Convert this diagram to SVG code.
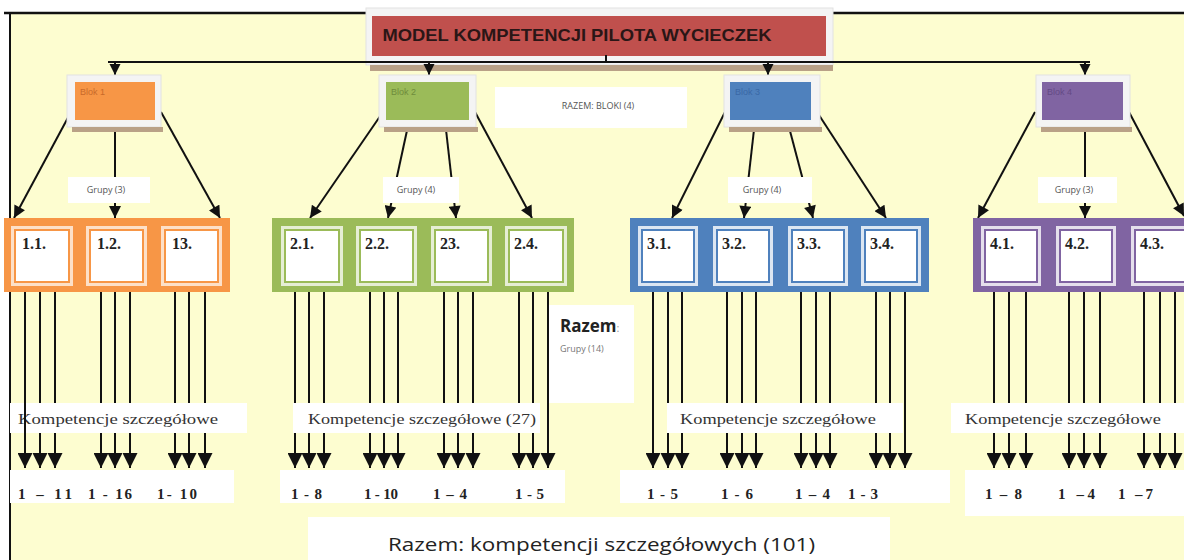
<svg xmlns="http://www.w3.org/2000/svg" width="1184" height="560" viewBox="0 0 1184 560">
<defs>
<style>
.ln{stroke:#111;stroke-width:2;fill:none}
.big{marker-end:url(#ah)}
.mid{marker-end:url(#am)}
.sm{marker-end:url(#as)}
.wb{fill:#ffffff}
.frame{fill:#f4f4f4;stroke:#e2e2e2;stroke-width:1}
.shadow{fill:#b9a187}
.blok{font-family:"Liberation Sans",Arial,sans-serif;font-size:9px}
.gr{font-family:"Open Sans","Liberation Sans",sans-serif;font-size:9px;fill:#555;text-anchor:middle}
.grl{font-family:"Open Sans","Liberation Sans",sans-serif;font-size:9px;fill:#777}
.lab{font-family:"Liberation Serif","Times New Roman",serif;font-size:16px;font-weight:bold;fill:#222}
.komp{font-family:"Liberation Serif","Times New Roman",serif;font-size:15px;fill:#333}
.num{font-family:"Liberation Serif","Times New Roman",serif;font-size:15px;font-weight:bold;fill:#222}
</style>
<marker id="ah" viewBox="0 0 10 10" refX="10" refY="5" markerWidth="16" markerHeight="15" markerUnits="userSpaceOnUse" orient="auto"><path d="M0,0 L10,5 L0,10 z" fill="#111"/></marker>
<marker id="am" viewBox="0 0 10 10" refX="10" refY="5" markerWidth="13" markerHeight="12" markerUnits="userSpaceOnUse" orient="auto"><path d="M0,0 L10,5 L0,10 z" fill="#111"/></marker>
<marker id="as" viewBox="0 0 10 10" refX="10" refY="5" markerWidth="11" markerHeight="12" markerUnits="userSpaceOnUse" orient="auto"><path d="M0,0 L10,5 L0,10 z" fill="#111"/></marker>
</defs>
<rect x="0" y="0" width="1184" height="560" fill="#ffffff"/>
<g id="panel">
<rect x="10" y="13" width="1180" height="550" fill="#fdfdd0"/>
<line x1="4" y1="13" x2="1184" y2="13" stroke="#111" stroke-width="2.5"/>
<line x1="10" y1="13" x2="10" y2="560" stroke="#111" stroke-width="2"/>
</g>
<g id="title">
<rect x="366" y="8" width="467" height="57" class="frame"/>
<rect x="370" y="65" width="463" height="6" class="shadow"/>
<rect x="372" y="16" width="454" height="40" fill="#c0504d"/>
<text x="577" y="41" text-anchor="middle" font-family="Liberation Sans, Arial, sans-serif" font-size="17" font-weight="bold" fill="#2a1616" textLength="389" lengthAdjust="spacingAndGlyphs">MODEL KOMPETENCJI PILOTA WYCIECZEK</text>
</g>
<g id="connectors">
<line class="ln" x1="606" y1="55" x2="606" y2="62"/>
<line class="ln" x1="108" y1="62" x2="1090" y2="62" stroke-width="2.5"/>
<line class="ln sm" x1="115" y1="62" x2="115" y2="75"/>
<line class="ln sm" x1="429" y1="62" x2="429" y2="75"/>
<line class="ln sm" x1="768" y1="62" x2="768" y2="75"/>
<line class="ln sm" x1="1085" y1="62" x2="1085" y2="75"/>
<line class="ln mid" x1="71" y1="112" x2="14" y2="218"/>
<line class="ln mid" x1="115" y1="120" x2="115" y2="218"/>
<line class="ln mid" x1="161" y1="112" x2="220" y2="218"/>
<line class="ln mid" x1="383" y1="112" x2="310" y2="218"/>
<line class="ln mid" x1="411" y1="112" x2="388" y2="218"/>
<line class="ln mid" x1="444" y1="112" x2="456" y2="218"/>
<line class="ln mid" x1="475" y1="112" x2="532" y2="218"/>
<line class="ln mid" x1="725" y1="112" x2="672" y2="218"/>
<line class="ln mid" x1="756" y1="112" x2="744" y2="218"/>
<line class="ln mid" x1="785" y1="112" x2="813" y2="218"/>
<line class="ln mid" x1="817" y1="112" x2="886" y2="218"/>
<line class="ln mid" x1="1035" y1="112" x2="978" y2="218"/>
<line class="ln mid" x1="1085" y1="120" x2="1085" y2="218"/>
<line class="ln mid" x1="1129" y1="112" x2="1184" y2="216"/>
<line class="ln big" x1="25" y1="292" x2="25" y2="468"/>
<line class="ln big" x1="40" y1="292" x2="40" y2="468"/>
<line class="ln big" x1="55" y1="292" x2="55" y2="468"/>
<line class="ln big" x1="101" y1="292" x2="101" y2="468"/>
<line class="ln big" x1="115" y1="292" x2="115" y2="468"/>
<line class="ln big" x1="130" y1="292" x2="130" y2="468"/>
<line class="ln big" x1="175" y1="292" x2="175" y2="468"/>
<line class="ln big" x1="189" y1="292" x2="189" y2="468"/>
<line class="ln big" x1="205" y1="292" x2="205" y2="468"/>
<line class="ln big" x1="295" y1="292" x2="295" y2="468"/>
<line class="ln big" x1="309" y1="292" x2="309" y2="468"/>
<line class="ln big" x1="324" y1="292" x2="324" y2="468"/>
<line class="ln big" x1="370" y1="292" x2="370" y2="468"/>
<line class="ln big" x1="384" y1="292" x2="384" y2="468"/>
<line class="ln big" x1="398" y1="292" x2="398" y2="468"/>
<line class="ln big" x1="444" y1="292" x2="444" y2="468"/>
<line class="ln big" x1="458" y1="292" x2="458" y2="468"/>
<line class="ln big" x1="473" y1="292" x2="473" y2="468"/>
<line class="ln big" x1="519" y1="292" x2="519" y2="468"/>
<line class="ln big" x1="533" y1="292" x2="533" y2="468"/>
<line class="ln big" x1="548" y1="292" x2="548" y2="468"/>
<line class="ln big" x1="653" y1="292" x2="653" y2="468"/>
<line class="ln big" x1="668" y1="292" x2="668" y2="468"/>
<line class="ln big" x1="682" y1="292" x2="682" y2="468"/>
<line class="ln big" x1="727" y1="292" x2="727" y2="468"/>
<line class="ln big" x1="742" y1="292" x2="742" y2="468"/>
<line class="ln big" x1="756" y1="292" x2="756" y2="468"/>
<line class="ln big" x1="801" y1="292" x2="801" y2="468"/>
<line class="ln big" x1="816" y1="292" x2="816" y2="468"/>
<line class="ln big" x1="830" y1="292" x2="830" y2="468"/>
<line class="ln big" x1="876" y1="292" x2="876" y2="468"/>
<line class="ln big" x1="890" y1="292" x2="890" y2="468"/>
<line class="ln big" x1="905" y1="292" x2="905" y2="468"/>
<line class="ln big" x1="994" y1="292" x2="994" y2="468"/>
<line class="ln big" x1="1009" y1="292" x2="1009" y2="468"/>
<line class="ln big" x1="1026" y1="292" x2="1026" y2="468"/>
<line class="ln big" x1="1069" y1="292" x2="1069" y2="468"/>
<line class="ln big" x1="1084" y1="292" x2="1084" y2="468"/>
<line class="ln big" x1="1100" y1="292" x2="1100" y2="468"/>
<line class="ln big" x1="1144" y1="292" x2="1144" y2="468"/>
<line class="ln big" x1="1160" y1="292" x2="1160" y2="468"/>
<line class="ln big" x1="1175" y1="292" x2="1175" y2="468"/>
</g>
<g id="blok1">
<rect x="67" y="75" width="94" height="52" class="frame"/>
<rect x="72" y="127" width="91" height="5" class="shadow"/>
<rect x="75" y="82" width="80" height="38" fill="#f79646"/>
<text x="80" y="95" class="blok" fill="#c96a2a">Blok 1</text>
</g>
<g id="blok2">
<rect x="379" y="75" width="97" height="52" class="frame"/>
<rect x="384" y="127" width="94" height="5" class="shadow"/>
<rect x="386" y="82" width="83" height="38" fill="#9bbb59"/>
<text x="391" y="95" class="blok" fill="#6f8c3c">Blok 2</text>
</g>
<g id="blok3">
<rect x="724" y="75" width="96" height="52" class="frame"/>
<rect x="729" y="127" width="93" height="5" class="shadow"/>
<rect x="730" y="82" width="81" height="38" fill="#4f81bd"/>
<text x="735" y="95" class="blok" fill="#3a68a6">Blok 3</text>
</g>
<g id="blok4">
<rect x="1036" y="75" width="94" height="52" class="frame"/>
<rect x="1041" y="127" width="91" height="5" class="shadow"/>
<rect x="1042" y="82" width="81" height="38" fill="#8064a2"/>
<text x="1047" y="95" class="blok" fill="#644a85">Blok 4</text>
</g>
<g id="razem-bloki">
<rect x="495" y="87" width="192" height="41" class="wb"/>
<text x="598" y="109" class="gr" font-size="9.5">RAZEM: BLOKI (4)</text>
</g>
<g id="grupy1"><rect x="68" y="177" width="82" height="26" class="wb"/><text x="106" y="193" class="gr">Grupy (3)</text></g>
<g id="grupy2"><rect x="383" y="177" width="76" height="26" class="wb"/><text x="416" y="193" class="gr">Grupy (4)</text></g>
<g id="grupy3"><rect x="728" y="177" width="84" height="26" class="wb"/><text x="762" y="193" class="gr">Grupy (4)</text></g>
<g id="grupy4"><rect x="1038" y="177" width="79" height="26" class="wb"/><text x="1074" y="193" class="gr">Grupy (3)</text></g>
<g id="grupa1">
<rect x="4" y="218" width="226" height="74" fill="#f79646"/>
<g fill="#fde0c8"><rect x="11" y="226" width="62" height="60"/><rect x="86" y="226" width="61" height="60"/><rect x="161" y="226" width="61" height="60"/></g>
<g fill="#fff" stroke="#f79646" stroke-width="2"><rect x="15" y="230" width="54" height="52"/><rect x="90" y="230" width="53" height="52"/><rect x="165" y="230" width="53" height="52"/></g>
<text x="22" y="249" class="lab">1.1.</text><text x="97" y="249" class="lab">1.2.</text><text x="172" y="249" class="lab">13.</text>
</g>
<g id="grupa2">
<rect x="272" y="218" width="302" height="74" fill="#9bbb59"/>
<g fill="#e6eed5"><rect x="281" y="226" width="62" height="60"/><rect x="356" y="226" width="61" height="60"/><rect x="431" y="226" width="61" height="60"/><rect x="505" y="226" width="62" height="60"/></g>
<g fill="#fff" stroke="#9bbb59" stroke-width="2"><rect x="285" y="230" width="54" height="52"/><rect x="360" y="230" width="53" height="52"/><rect x="435" y="230" width="53" height="52"/><rect x="509" y="230" width="54" height="52"/></g>
<text x="290" y="249" class="lab">2.1.</text><text x="365" y="249" class="lab">2.2.</text><text x="440" y="249" class="lab">23.</text><text x="514" y="249" class="lab">2.4.</text>
</g>
<g id="grupa3">
<rect x="630" y="218" width="299" height="74" fill="#4f81bd"/>
<g fill="#dce6f2"><rect x="638" y="226" width="60" height="60"/><rect x="713" y="226" width="60" height="60"/><rect x="788" y="226" width="60" height="60"/><rect x="861" y="226" width="60" height="60"/></g>
<g fill="#fff" stroke="#4f81bd" stroke-width="2"><rect x="642" y="230" width="52" height="52"/><rect x="717" y="230" width="52" height="52"/><rect x="792" y="230" width="52" height="52"/><rect x="865" y="230" width="52" height="52"/></g>
<text x="647" y="249" class="lab">3.1.</text><text x="722" y="249" class="lab">3.2.</text><text x="797" y="249" class="lab">3.3.</text><text x="870" y="249" class="lab">3.4.</text>
</g>
<g id="grupa4">
<rect x="973" y="218" width="215" height="74" fill="#8064a2"/>
<g fill="#e5dfec"><rect x="981" y="226" width="60" height="60"/><rect x="1056" y="226" width="60" height="60"/><rect x="1131" y="226" width="60" height="60"/></g>
<g fill="#fff" stroke="#8064a2" stroke-width="2"><rect x="985" y="230" width="52" height="52"/><rect x="1060" y="230" width="52" height="52"/><rect x="1135" y="230" width="52" height="52"/></g>
<text x="990" y="249" class="lab">4.1.</text><text x="1065" y="249" class="lab">4.2.</text><text x="1140" y="249" class="lab">4.3.</text>
</g>
<g id="razem-grupy">
<rect x="549" y="305" width="85" height="98" class="wb"/>
<text x="560" y="332" font-family="Open Sans, Liberation Sans, sans-serif" font-size="17" font-weight="bold" fill="#222">Razem<tspan fill="#999" font-weight="normal" font-size="11">:</tspan></text>
<text x="560" y="352" class="grl">Grupy (14)</text>
</g>
<g id="komp1"><rect x="10" y="403" width="237" height="30" class="wb"/><text x="18" y="424" class="komp" textLength="200" lengthAdjust="spacingAndGlyphs">Kompetencje szczegółowe</text></g>
<g id="komp2"><rect x="293" y="403" width="247" height="30" class="wb"/><text x="308" y="424" class="komp" textLength="228" lengthAdjust="spacingAndGlyphs">Kompetencje szczegółowe (27)</text></g>
<g id="komp3"><rect x="667" y="403" width="236" height="30" class="wb"/><text x="680" y="424" class="komp" textLength="196" lengthAdjust="spacingAndGlyphs">Kompetencje szczegółowe</text></g>
<g id="komp4"><rect x="951" y="403" width="233" height="30" class="wb"/><text x="965" y="424" class="komp" textLength="196" lengthAdjust="spacingAndGlyphs">Kompetencje szczegółowe</text></g>
<g id="connectors-overlay"><line class="ln" x1="25" y1="400" x2="25" y2="436"/></g>
<g id="liczby1"><rect x="10" y="470" width="224" height="33" class="wb"/>
<text x="18" y="499" class="num" textLength="54" lengthAdjust="spacing">1 – 11</text><text x="88" y="499" class="num" textLength="44" lengthAdjust="spacing">1 - 16</text><text x="157" y="499" class="num" textLength="40" lengthAdjust="spacing">1- 10</text></g>
<g id="liczby2"><rect x="280" y="470" width="285" height="33" class="wb"/>
<text x="291" y="499" class="num" textLength="31" lengthAdjust="spacing">1 - 8</text><text x="364" y="499" class="num" textLength="34" lengthAdjust="spacing">1 - 10</text><text x="433" y="499" class="num" textLength="34" lengthAdjust="spacing">1–4</text><text x="515" y="499" class="num" textLength="29" lengthAdjust="spacing">1 - 5</text></g>
<g id="liczby3"><rect x="620" y="470" width="330" height="33" class="wb"/>
<text x="647" y="499" class="num" textLength="31" lengthAdjust="spacing">1 - 5</text><text x="721" y="499" class="num" textLength="32" lengthAdjust="spacing">1 - 6</text><text x="795" y="499" class="num" textLength="35" lengthAdjust="spacing">1 – 4</text><text x="848" y="499" class="num" textLength="30" lengthAdjust="spacing">1 - 3</text></g>
<g id="liczby4"><rect x="965" y="470" width="219" height="46" class="wb"/>
<text x="985" y="499" class="num" textLength="37" lengthAdjust="spacing">1 – 8</text><text x="1058" y="499" class="num" textLength="37" lengthAdjust="spacing">1 –4</text><text x="1118" y="499" class="num" textLength="35" lengthAdjust="spacing">1 –7</text></g>
<g id="razem-komp"><rect x="308" y="517" width="582" height="45" class="wb"/>
<text x="388" y="551" font-family="Open Sans, Liberation Sans, sans-serif" font-size="19" fill="#222" textLength="427" lengthAdjust="spacingAndGlyphs">Razem: kompetencji szczegółowych (101)</text></g>
</svg>
